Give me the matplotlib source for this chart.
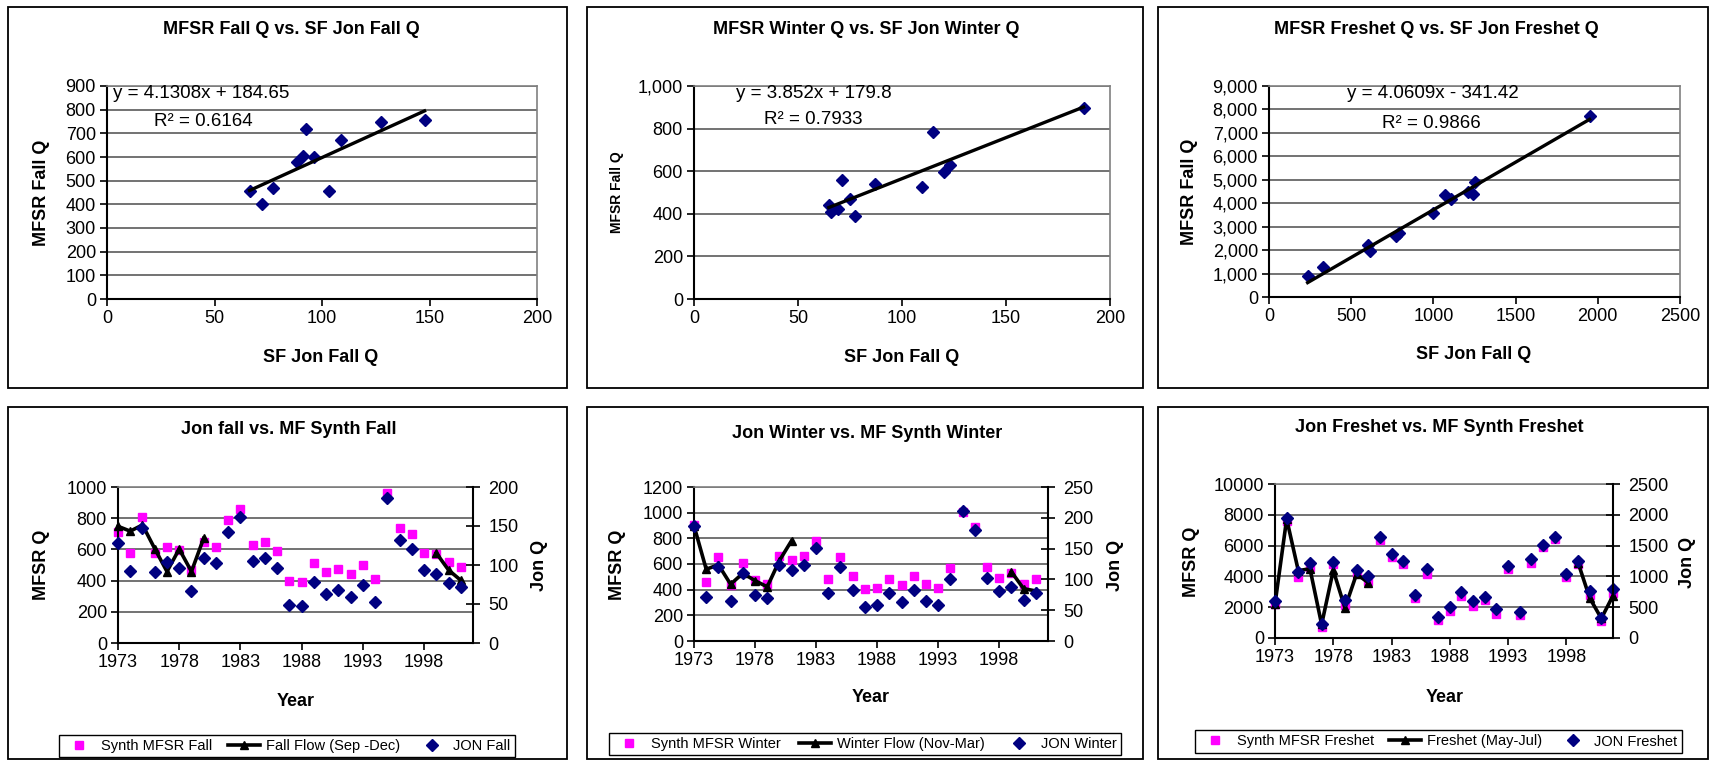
import numpy as np
import matplotlib.pyplot as plt
import matplotlib.ticker as tck
from matplotlib.patches import Rectangle

plt.rcParams['font.family'] = ['Liberation Sans', 'DejaVu Sans']

W, H = 1709, 761
nan = np.nan

# years of record
years = np.arange(1973, 2002)       # fall and winter, 1973-2001
years_fr = np.arange(1973, 2003)    # freshet, 1973-2002
year_ticks = [1973, 1978, 1983, 1988, 1993, 1998]

# Fall (Sep-Dec)
synth_fall = [713, 579, 809, 579, 617, 596, 468, 649, 617, 787, 862, 628, 645, 591, 398,
              394, 515, 457, 472, 440, 500, 411, 964, 738, 696, 574, 568, 517, 489]
jon_fall = [127.6, 92.7, 147.7, 91.1, 103.4, 96.3, 66.3, 108.9, 103, 142.6, 161.7, 105, 108.5,
            95.7, 49, 46.8, 77.9, 63, 68, 58.7, 74.5, 52.3, 186, 132, 121, 93.6, 88.6, 77.3, 72.2]
obs_fall = [748, 717, 757, 605, 458, 602, 458, 672] + [nan] * 18 + [577, 468, 402]

# Winter (Nov-Mar)
synth_winter = [907, 461, 656, 435, 609, 474, 448, 661, 635, 661, 778, 487, 651, 505, 404,
                410, 487, 435, 508, 443, 410, 565, 1006, 889, 578, 492, 526, 443, 487]
jon_winter = [187.3, 71.1, 120, 64.8, 109.7, 74.8, 69, 123, 115.1, 123, 151, 77.2, 120, 82.6,
              55.6, 58.3, 77.2, 62.6, 82.6, 64.8, 58.3, 99.9, 210.6, 179.8, 102.6, 81, 87, 66, 77.5]
obs_winter = [898, 559, 594, 442, 528, 470, 422, 627, 783] + [nan] * 17 + [539, 408, 390]

# Freshet (May-Jul)
synth_freshet = [2203, 7603, 3931, 4579, 713, 4816, 2160, 4212, 3672, 6371, 5248, 4816, 2592,
                 4168, 1145, 1728, 2743, 2095, 2441, 1577, 4492, 1512, 4860, 5896, 6415, 3952,
                 4816, 2765, 1080, 2916]
jon_freshet = [605, 1950, 1069, 1210, 235, 1240, 615, 1105, 1000, 1636, 1361, 1253, 691, 1123,
               335, 502, 745, 605, 664, 475, 1161, 421, 1285, 1512, 1647, 1042, 1255, 770, 326, 792]
obs_freshet = [2200, 7730, 4370, 4500, 880, 4400, 1950, 4160, 3590] + [nan] * 17 + \
              [4900, 2600, 1270, 2750]

# trendlines shown on the charts (slope, intercept)
fall_fit = (4.1308, 184.65)
winter_fit = (3.852, 179.8)
freshet_fit = (4.0609, -341.42)

PINK = '#FF00FF'
NAVY = '#000080'
GRID = '#5a5a5a'

fig = plt.figure(figsize=(W / 100, H / 100), dpi=100)


def axes_px(l, t, r, b):
    return fig.add_axes([l / W, 1 - b / H, (r - l) / W, (b - t) / H])


def text_px(x, y, s, **kw):
    kw.setdefault('ha', 'center')
    kw.setdefault('va', 'center')
    fig.text(x / W, 1 - y / H, s, **kw)


def box_px(l, t, r, b):
    fig.add_artist(Rectangle((l / W, 1 - b / H), (r - l) / W, (b - t) / H,
                             transform=fig.transFigure, fill=False,
                             edgecolor='black', lw=1.3))


def style(ax):
    ax.yaxis.grid(True, color=GRID, lw=1.2)
    ax.set_axisbelow(True)
    for s in ['left', 'bottom']:
        ax.spines[s].set_linewidth(1.5)
    for s in ['top', 'right']:
        ax.spines[s].set_color('#808080')
        ax.spines[s].set_linewidth(1.2)
    ax.tick_params(direction='out', length=5, width=1.2, labelsize=13, pad=3)


comma = tck.StrMethodFormatter('{x:,.0f}')


def scatter_panel(rect, jon, obs, fit, xlim, xstep, ylim, ystep):
    ax = axes_px(*rect)
    style(ax)
    jon = np.array(jon)
    obs = np.array(obs, dtype=float)
    ok = ~np.isnan(obs)
    ax.plot(jon[ok], obs[ok], 'D', color=NAVY, ms=6.2, ls='none', clip_on=False)
    xs = np.array([jon[ok].min(), jon[ok].max()])
    ax.plot(xs, fit[0] * xs + fit[1], color='black', lw=2.4)
    ax.set_xlim(0, xlim)
    ax.set_ylim(0, ylim)
    ax.set_xticks(np.arange(0, xlim + 1, xstep))
    ax.set_yticks(np.arange(0, ylim + 1, ystep))
    return ax


def series_panel(rect, yrs, synth, obs, jon, ylim, ystep, jlim, jstep, labels, leg_rect):
    ax = axes_px(*rect)
    style(ax)
    ax.spines['right'].set_visible(False)
    ax.plot(yrs, synth, 's', color=PINK, ms=5.6, ls='none', clip_on=False, label=labels[0])
    ax.plot(yrs, obs, '-^', color='black', lw=2.6, ms=6, clip_on=False, label=labels[1])
    ax.set_xlim(1973, 2002)
    ax.set_xticks(year_ticks)
    ax.set_ylim(0, ylim)
    ax.set_yticks(np.arange(0, ylim + 1, ystep))

    ax2 = ax.twinx()
    ax2.plot(yrs, jon, 'D', color=NAVY, ms=6, ls='none', clip_on=False, label=labels[2])
    ax2.set_ylim(0, jlim)
    ax2.set_yticks(np.arange(0, jlim + 1, jstep))
    for s in ['left', 'top', 'bottom']:
        ax2.spines[s].set_visible(False)
    ax2.spines['right'].set_linewidth(1.5)
    ax2.tick_params(direction='inout', length=10, width=1.2, labelsize=13, pad=6)

    h1, l1 = ax.get_legend_handles_labels()
    h2, l2 = ax2.get_legend_handles_labels()
    l, t, r, b = leg_rect
    leg = ax2.legend(h1 + h2, l1 + l2, ncol=3, loc='center', mode='expand',
                     bbox_to_anchor=(l / W, 1 - b / H, (r - l) / W, (b - t) / H),
                     bbox_transform=fig.transFigure, fontsize=10.5, frameon=True,
                     fancybox=False, edgecolor='black', framealpha=1,
                     handlelength=2.2, handletextpad=0.4, borderpad=0.3,
                     borderaxespad=0, numpoints=1)
    leg.get_frame().set_linewidth(1.0)
    return ax, ax2


# panel borders
box_px(8, 7, 567, 388)
box_px(587, 7, 1143, 388)
box_px(1158, 7, 1708, 388)
box_px(8, 407, 567, 759)
box_px(587, 407, 1143, 759)
box_px(1158, 407, 1708, 759)

tfont = dict(fontsize=13, fontweight='bold')
eq_font = dict(fontsize=13.5, ha='left')

# top left: fall scatter
scatter_panel((107, 86, 537, 299), jon_fall, obs_fall, fall_fit, 200, 50, 900, 100)
text_px(291, 29, 'MFSR Fall Q vs. SF Jon Fall Q', **tfont)
text_px(321, 358, 'SF Jon Fall Q', **tfont)
text_px(42, 193, 'MFSR Fall Q', rotation=90, **tfont)
text_px(113, 94, 'y = 4.1308x + 184.65', **eq_font)
text_px(154, 121, 'R² = 0.6164', **eq_font)

# top middle: winter scatter
ax = scatter_panel((694, 86, 1110, 299), jon_winter, obs_winter, winter_fit, 200, 50, 1000, 200)
ax.yaxis.set_major_formatter(comma)
text_px(866, 30, 'MFSR Winter Q vs. SF Jon Winter Q', **tfont)
text_px(902, 358, 'SF Jon Fall Q', **tfont)
text_px(617, 192, 'MFSR Fall Q', rotation=90, fontsize=10, fontweight='bold')
text_px(736, 94, 'y = 3.852x + 179.8', **eq_font)
text_px(764, 120, 'R² = 0.7933', **eq_font)

# top right: freshet scatter
ax = scatter_panel((1269, 86, 1680, 297), jon_freshet, obs_freshet, freshet_fit, 2500, 500, 9000, 1000)
ax.yaxis.set_major_formatter(comma)
text_px(1436, 30, 'MFSR Freshet Q vs. SF Jon Freshet Q', **tfont)
text_px(1474, 355, 'SF Jon Fall Q', **tfont)
text_px(1189, 192, 'MFSR Fall Q', rotation=90, **tfont)
text_px(1347, 94, 'y = 4.0609x - 341.42', **eq_font)
text_px(1382, 123, 'R² = 0.9866', **eq_font)

# bottom left: fall series
series_panel((118, 487, 473, 643), years, synth_fall, obs_fall, jon_fall, 1000, 200, 200, 50,
             ['Synth MFSR Fall', 'Fall Flow (Sep -Dec)', 'JON Fall'], (59, 734, 515, 758))
text_px(289, 430, 'Jon fall vs. MF Synth Fall', **tfont)
text_px(296, 701, 'Year', **tfont)
text_px(42, 565, 'MFSR Q', rotation=90, **tfont)
text_px(539, 565, 'Jon Q', rotation=90, **tfont)

# bottom middle: winter series
series_panel((694, 487, 1048, 641), years, synth_winter, obs_winter, jon_winter, 1200, 200, 250, 50,
             ['Synth MFSR Winter', 'Winter Flow (Nov-Mar)', 'JON Winter'], (609, 732, 1121, 756))
text_px(867, 433, 'Jon Winter vs. MF Synth Winter', **tfont)
text_px(871, 698, 'Year', **tfont)
text_px(618, 565, 'MFSR Q', rotation=90, **tfont)
text_px(1115, 565, 'Jon Q', rotation=90, **tfont)

# bottom right: freshet series
series_panel((1275, 484, 1613, 638), years_fr, synth_freshet, obs_freshet, jon_freshet, 10000, 2000,
             2500, 500, ['Synth MFSR Freshet', 'Freshet (May-Jul)', 'JON Freshet'],
             (1195, 730, 1682, 753))
text_px(1439, 427, 'Jon Freshet vs. MF Synth Freshet', **tfont)
text_px(1445, 697, 'Year', **tfont)
text_px(1191, 562, 'MFSR Q', rotation=90, **tfont)
text_px(1688, 562, 'Jon Q', rotation=90, **tfont)

fig.savefig('out.png', dpi=100)
